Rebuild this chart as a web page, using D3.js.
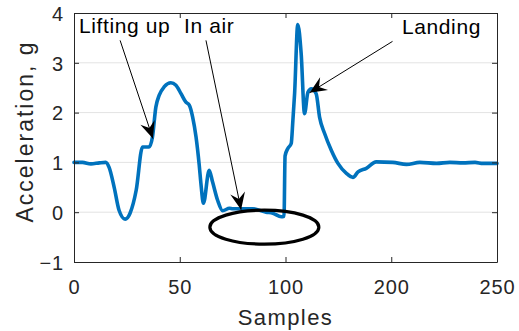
<!DOCTYPE html>
<html>
<head>
<meta charset="utf-8">
<script src="https://cdn.jsdelivr.net/npm/d3@7"></script>
<style>
  body { margin: 0; background: #fff; }
  svg { display: block; font-family: "Liberation Sans", Arial, sans-serif; }
</style>
</head>
<body>
<svg id="chart" width="519" height="331"></svg>
<script>
// Sample positions and acceleration (g)
const samples = [0, 4, 8, 12, 15, 16.6, 19, 21.3, 24.2, 26.5, 29.4, 32.4, 35.5, 37.1, 38.7, 40.3, 42.7, 45.8, 48.2, 50.6,
  52.9, 54.5, 56.1, 57.7, 59.2, 60, 61.2, 63.9, 65.5, 67.9, 70.3, 73.5, 75, 79, 84.5, 90.8, 94, 98, 99.3, 99.8,
  101.1, 102.7, 103.5, 104.3, 105.8, 107.4, 109, 110.6, 112.2, 114.5, 116.1, 118.5, 121.7, 124.8, 128.8, 131.9, 134.3, 138.2, 142.9, 150.7,
  157.2, 163.5, 171.4, 177.7, 183.9, 189.6, 193.4, 200];
const accel = [1.00, 1.00, 0.97, 0.99, 1.00, 0.90, 0.50, 0.04, -0.14, -0.02, 0.44, 1.31, 1.31, 1.51, 2.11, 2.35, 2.52, 2.60, 2.55, 2.38,
  2.21, 2.15, 1.91, 1.51, 0.95, 0.58, 0.18, 0.84, 0.61, 0.24, 0.03, 0.08, 0.07, 0.07, 0.07, 0.00, -0.02, -0.09, -0.08, 1.13,
  1.28, 1.38, 1.85, 2.38, 3.77, 3.19, 1.98, 2.41, 2.48, 2.38, 1.91, 1.58, 1.24, 0.98, 0.78, 0.70, 0.81, 0.88, 1.01, 1.00,
  0.96, 1.00, 0.98, 1.00, 0.99, 1.00, 0.98, 0.98];

const xTicks = [0, 50, 100, 150, 200];
const xTickLabels = ['0', '50', '100', '200', '250'];
const yTicks = [-1, 0, 1, 2, 3, 4];

// annotations: text anchor and arrow tip in data units
const notes = [
  { text: 'Lifting up', tx: 79, ty: 33, fx: 21.8, fy: 3.45, px: 37.3, py: 1.48 },
  { text: 'In air', tx: 184, ty: 33, fx: 62.4, fy: 3.45, px: 79.0, py: 0.05 },
  { text: 'Landing', tx: 402, ty: 34, fx: 150.6, fy: 3.43, px: 111.4, py: 2.4 }
];
const ellipse = { cx: 90, cy: -0.3, rx: 54.5, ry: 17 };

const svg = d3.select('#chart');
const margin = { top: 13, right: 22, bottom: 69, left: 74 };
const width = 519 - margin.left - margin.right;
const height = 331 - margin.top - margin.bottom;
const axisColor = '#262626';

const x = d3.scaleLinear().domain([0, 200]).range([0, width]);
const y = d3.scaleLinear().domain([-1, 4]).range([height, 0]);

const g = svg.append('g').attr('transform', `translate(${margin.left},${margin.top})`);

// horizontal grid
g.append('g')
  .selectAll('line')
  .data(yTicks.slice(1, -1))
  .enter()
  .append('line')
  .attr('x1', 0).attr('x2', width)
  .attr('y1', d => y(d)).attr('y2', d => y(d))
  .attr('stroke', '#e3e3e3')
  .attr('stroke-width', 1);

// data line
g.append('path')
  .datum(samples.map((s, i) => [s, accel[i]]))
  .attr('fill', 'none')
  .attr('stroke', '#0072BD')
  .attr('stroke-width', 3.6)
  .attr('stroke-linejoin', 'round')
  .attr('stroke-linecap', 'round')
  .attr('d', d3.line().curve(d3.curveMonotoneX).x(d => x(d[0])).y(d => y(d[1])));

// axes (box with inward ticks)
const styleAxis = sel => {
  sel.select('.domain').attr('stroke', axisColor);
  sel.selectAll('.tick line').attr('stroke', axisColor);
  sel.selectAll('text')
    .attr('fill', axisColor)
    .style('font-size', '20px')
    .style('letter-spacing', '0.8px');
};

g.append('g')
  .attr('transform', `translate(0,${height})`)
  .call(d3.axisBottom(x).tickValues(xTicks).tickFormat((d, i) => xTickLabels[i]).tickSizeInner(-5).tickSizeOuter(0))
  .call(styleAxis)
  .call(a => a.selectAll('text').attr('y', 32).attr('dy', 0));

g.append('g')
  .call(d3.axisTop(x).tickValues(xTicks).tickFormat('').tickSizeInner(-5).tickSizeOuter(0))
  .call(styleAxis);

g.append('g')
  .call(d3.axisLeft(y).tickValues(yTicks).tickFormat(d3.format('d')).tickSizeInner(-5).tickSizeOuter(0))
  .call(styleAxis)
  .call(a => a.selectAll('text').attr('x', -10).attr('dy', '0.36em'));

g.append('g')
  .attr('transform', `translate(${width},0)`)
  .call(d3.axisRight(y).tickValues(yTicks).tickFormat('').tickSizeInner(-5).tickSizeOuter(0))
  .call(styleAxis);

// axis labels
svg.append('text')
  .attr('x', margin.left + width / 2)
  .attr('y', 325)
  .attr('text-anchor', 'middle')
  .attr('fill', axisColor)
  .style('font-size', '22px')
  .style('letter-spacing', '1.4px')
  .text('Samples');

svg.append('text')
  .attr('transform', `translate(33,${margin.top + height / 2 - 6}) rotate(-90)`)
  .attr('text-anchor', 'middle')
  .attr('fill', axisColor)
  .style('font-size', '23px')
  .style('letter-spacing', '2px')
  .text('Acceleration, g');

// ellipse around "in air" region
g.append('ellipse')
  .attr('cx', x(ellipse.cx))
  .attr('cy', y(ellipse.cy))
  .attr('rx', ellipse.rx)
  .attr('ry', ellipse.ry)
  .attr('fill', 'none')
  .attr('stroke', '#000')
  .attr('stroke-width', 3.2);

// text arrows
const head = (x0, y0, x1, y1) => {
  const a = Math.atan2(y1 - y0, x1 - x0);
  const L = 17, w = 7.5, n = 11;
  const pt = (dx, dy) => [x1 + dx * Math.cos(a) - dy * Math.sin(a), y1 + dx * Math.sin(a) + dy * Math.cos(a)];
  return [pt(0, 0), pt(-L, w), pt(-n, 0), pt(-L, -w)];
};

notes.forEach(nt => {
  const x0 = x(nt.fx), y0 = y(nt.fy), x1 = x(nt.px), y1 = y(nt.py);
  g.append('line')
    .attr('x1', x0).attr('y1', y0).attr('x2', x1).attr('y2', y1)
    .attr('stroke', '#000').attr('stroke-width', 1);
  g.append('path')
    .attr('d', 'M' + head(x0, y0, x1, y1).join('L') + 'Z')
    .attr('fill', '#000');
  svg.append('text')
    .attr('x', nt.tx)
    .attr('y', nt.ty)
    .attr('fill', '#000')
    .style('font-size', '21px')
    .style('letter-spacing', '0.6px')
    .text(nt.text);
});
</script>
</body>
</html>
